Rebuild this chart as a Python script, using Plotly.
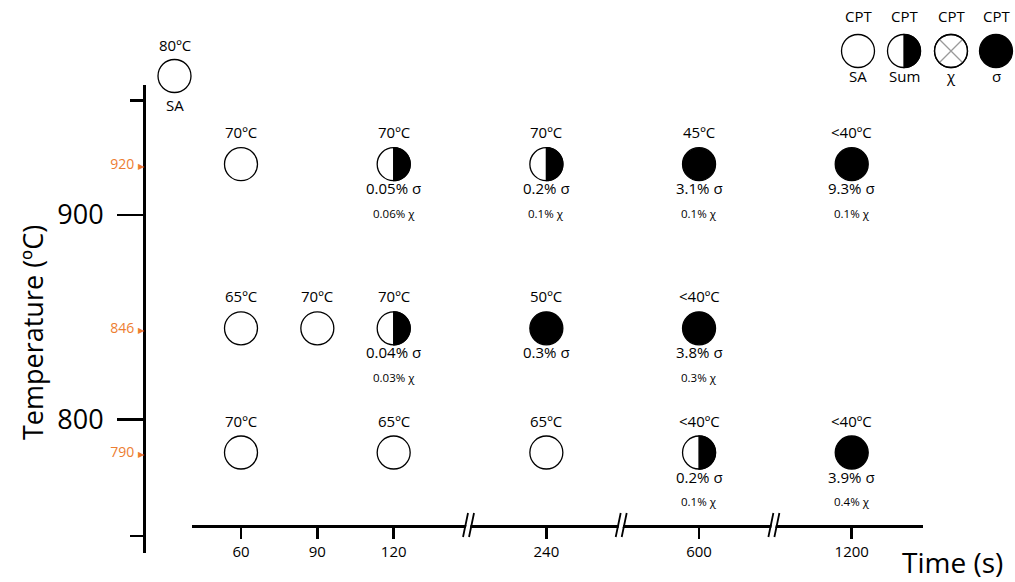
import numpy as np
import plotly.graph_objects as go

W, H = 1015, 582

# ------------------------------------------------------------------ data
axis_slots = ["60", "90", "120", None, "240", None, "600", None, "1200"]   # None = axis break
tick_labels = ["60", "90", "120", "240", "600", "1200"]
row_temps = [920, 846, 790]
main_temp_ticks = [900, 800]
main_temp_minor = [956, 743]

pt_time = [60, 120, 240, 600, 1200,
           60, 90, 120, 240, 600,
           60, 120, 240, 600, 1200]
pt_row = [920, 920, 920, 920, 920,
          846, 846, 846, 846, 846,
          790, 790, 790, 790, 790]
pt_cpt = ["70ºC", "70ºC", "70ºC", "45ºC", "<40ºC",
          "65ºC", "70ºC", "70ºC", "50ºC", "<40ºC",
          "70ºC", "65ºC", "65ºC", "<40ºC", "<40ºC"]
pt_type = ["SA", "Sum", "Sum", "σ", "σ",
           "SA", "SA", "Sum", "σ", "σ",
           "SA", "SA", "SA", "Sum", "σ"]
pt_sigma = ["", "0.05% σ", "0.2% σ", "3.1% σ", "9.3% σ",
            "", "", "0.04% σ", "0.3% σ", "3.8% σ",
            "", "", "", "0.2% σ", "3.9% σ"]
pt_chi = ["", "0.06% χ", "0.1% χ", "0.1% χ", "0.1% χ",
          "", "", "0.03% χ", "", "0.3% χ",
          "", "", "", "0.1% χ", "0.4% χ"]

legend_types = ["SA", "Sum", "χ", "σ"]
legend_header = "CPT"
initial_cpt = "80ºC"
initial_type = "SA"

# ------------------------------------------------------------------ style
FONT = "Open Sans"
ORANGE = "#ED7D31"
BLACK = "#000000"
GREY = "#9a9a9a"
MS = 33          # marker diameter px
LW = 1.3
AXW = 2.5


def px_x(p):
    return p / W


def px_y(p):
    return 1 - p / H


def half_path(r, n=48):
    ang = np.linspace(-np.pi / 2, np.pi / 2, n)
    pts = [(r * np.cos(a), r * np.sin(a)) for a in ang]
    return "M " + " L ".join(f"{x:.2f},{y:.2f}" for x, y in pts) + " Z"


HALF = half_path(MS / 2)

slot_index = [axis_slots.index(str(t)) for t in pt_time]
tick_index = [axis_slots.index(t) for t in tick_labels]
break_index = [i for i, s in enumerate(axis_slots) if s is None]

fig = go.Figure()

# empty trace so that the x / y (temperature) subplot exists
fig.add_trace(go.Scatter(x=[], y=[], xaxis="x", yaxis="y", mode="markers",
                         showlegend=False, hoverinfo="skip"))

# ---------------------------------------------------------------- points
fill = {"SA": "white", "Sum": "white", "σ": BLACK}
fig.add_trace(go.Scatter(
    x=slot_index, y=pt_row, xaxis="x", yaxis="y2", mode="markers",
    marker=dict(size=MS, color=[fill[t] for t in pt_type], symbol="circle",
                line=dict(color=BLACK, width=LW)),
    hoverinfo="skip", showlegend=False, cliponaxis=False))

shapes = []
for xi, yv, t in zip(slot_index, pt_row, pt_type):
    if t == "Sum":
        shapes.append(dict(type="path", xref="x", yref="y2", xsizemode="pixel", ysizemode="pixel",
                           xanchor=xi, yanchor=yv, path=HALF, fillcolor=BLACK,
                           line=dict(color=BLACK, width=LW)))

TXT = dict(showarrow=False, xanchor="center", yanchor="middle")
annotations = []
for xi, yv, c, s, ch in zip(slot_index, pt_row, pt_cpt, pt_sigma, pt_chi):
    annotations.append(dict(x=xi, y=yv, xref="x", yref="y2", text=c, yshift=32,
                            font=dict(family=FONT, size=15, color=BLACK), **TXT))
    if s:
        annotations.append(dict(x=xi, y=yv, xref="x", yref="y2", text=s, yshift=-24,
                                font=dict(family=FONT, size=15, color=BLACK), **TXT))
    if ch:
        annotations.append(dict(x=xi, y=yv, xref="x", yref="y2", text=ch, yshift=-49,
                                font=dict(family=FONT, size=11.5, color=BLACK), **TXT))

# axis break marks on the time axis
x_axis_pos = px_y(526)
for b in break_index:
    shapes.append(dict(type="path", xref="x", yref="paper", xsizemode="pixel", ysizemode="pixel",
                       xanchor=b, yanchor=x_axis_pos,
                       path="M -6,-11 L -1,13 L 3,13 L -2,-11 Z", fillcolor="white",
                       line=dict(width=0), layer="above"))
    shapes.append(dict(type="path", xref="x", yref="paper", xsizemode="pixel", ysizemode="pixel",
                       xanchor=b, yanchor=x_axis_pos,
                       path="M -7,-11 L -2,13 M -1,-11 L 4,13",
                       line=dict(color=BLACK, width=1.8), layer="above"))

# ---------------------------------------------------------------- legend + initial state (overlay axes in px)
leg_x = [858, 904, 951, 996]
leg_y = 51
leg_fill = {"SA": "white", "Sum": "white", "χ": "white", "σ": BLACK}
fig.add_trace(go.Scatter(
    x=leg_x, y=[leg_y] * 4, xaxis="x3", yaxis="y3", mode="markers",
    marker=dict(size=MS, color=[leg_fill[t] for t in legend_types], symbol="circle",
                line=dict(color=BLACK, width=LW)),
    hoverinfo="skip", showlegend=False, cliponaxis=False))
chi_i = legend_types.index("χ")
fig.add_trace(go.Scatter(
    x=[leg_x[chi_i]], y=[leg_y], xaxis="x3", yaxis="y3", mode="markers",
    marker=dict(size=MS - 9, color=GREY, symbol="x-thin-open",
                line=dict(color=GREY, width=1.3)),
    hoverinfo="skip", showlegend=False, cliponaxis=False))
fig.add_trace(go.Scatter(
    x=[leg_x[chi_i]], y=[leg_y], xaxis="x3", yaxis="y3", mode="markers",
    marker=dict(size=MS, color=BLACK, symbol="circle-open",
                line=dict(color=BLACK, width=LW)),
    hoverinfo="skip", showlegend=False, cliponaxis=False))
sum_i = legend_types.index("Sum")
shapes.append(dict(type="path", xref="x3", yref="y3", xsizemode="pixel", ysizemode="pixel",
                   xanchor=leg_x[sum_i], yanchor=leg_y, path=HALF, fillcolor=BLACK,
                   line=dict(color=BLACK, width=LW)))
for x, t in zip(leg_x, legend_types):
    annotations.append(dict(x=x, y=16, xref="x3", yref="y3", text=legend_header,
                            font=dict(family=FONT, size=15, color=BLACK), **TXT))
    annotations.append(dict(x=x, y=76, xref="x3", yref="y3", text=t,
                            font=dict(family=FONT, size=15, color=BLACK), **TXT))

init_x, init_y = 174.5, 76
fig.add_trace(go.Scatter(
    x=[init_x], y=[init_y], xaxis="x3", yaxis="y3", mode="markers",
    marker=dict(size=MS, color="white", symbol="circle", line=dict(color=BLACK, width=LW)),
    hoverinfo="skip", showlegend=False, cliponaxis=False))
annotations.append(dict(x=init_x, y=45, xref="x3", yref="y3", text=initial_cpt,
                        font=dict(family=FONT, size=15, color=BLACK), **TXT))
annotations.append(dict(x=init_x, y=105, xref="x3", yref="y3", text=initial_type,
                        font=dict(family=FONT, size=15, color=BLACK), **TXT))

# ---------------------------------------------------------------- titles
annotations.append(dict(x=px_x(32), y=px_y(333), xref="paper", yref="paper",
                        text="Temperature (ºC)", textangle=-90,
                        font=dict(family=FONT, size=27, color=BLACK), **TXT))
annotations.append(dict(x=px_x(952), y=px_y(562), xref="paper", yref="paper",
                        text="Time (s)",
                        font=dict(family=FONT, size=28, color=BLACK), **TXT))

# ---------------------------------------------------------------- axes
y_dom = [px_y(553), px_y(85)]


def temp_at(p, ref_t, ref_p, scale):
    return ref_t + (ref_p - p) / scale


main_scale = 2.043   # px per ºC
row_scale = 2.218
y_range = [temp_at(553, 800, 419.3, main_scale), temp_at(85, 800, 419.3, main_scale)]
y2_range = [temp_at(553, 852, 315, row_scale), temp_at(85, 852, 315, row_scale)]

unit = 76.34
x0_px = 241
x_range = [(192 - x0_px) / unit, (923 - x0_px) / unit]

fig.update_layout(
    width=W, height=H,
    margin=dict(l=0, r=0, t=0, b=0),
    paper_bgcolor="white", plot_bgcolor="rgba(0,0,0,0)",
    showlegend=False,
    font=dict(family=FONT, color=BLACK),
    xaxis=dict(domain=[px_x(192), px_x(923)], range=x_range, anchor="free", position=x_axis_pos,
               showgrid=False, zeroline=False, showline=True, linecolor=BLACK, linewidth=AXW,
               tickmode="array", tickvals=tick_index, ticktext=tick_labels,
               ticks="outside", ticklen=11, tickwidth=AXW, tickcolor=BLACK,
               tickfont=dict(family=FONT, size=15, color=BLACK), fixedrange=True),
    yaxis=dict(domain=y_dom, range=y_range, anchor="free", position=px_x(144),
               showgrid=False, zeroline=False, showline=True, linecolor=BLACK, linewidth=AXW,
               tickmode="array", tickvals=main_temp_ticks, ticks="outside", ticklen=26,
               tickwidth=AXW, tickcolor=BLACK, ticklabelstandoff=8,
               tickfont=dict(family=FONT, size=27, color=BLACK),
               minor=dict(tickmode="array", tickvals=main_temp_minor, ticks="outside",
                          ticklen=13, tickwidth=AXW, tickcolor=BLACK, showgrid=False),
               fixedrange=True),
    yaxis2=dict(overlaying="y", range=y2_range, anchor="free", position=px_x(144), side="left",
                showgrid=False, zeroline=False, showline=False,
                tickmode="array", tickvals=row_temps,
                ticktext=[f"{t} <span style='font-size:8px'>▶</span>" for t in row_temps],
                ticks="", tickfont=dict(family=FONT, size=14, color=ORANGE), fixedrange=True),
    xaxis3=dict(domain=[0, 1], range=[0, W], visible=False, anchor="y3", fixedrange=True),
    yaxis3=dict(domain=[0, 1], range=[H, 0], visible=False, anchor="x3", fixedrange=True),
    shapes=shapes,
    annotations=annotations,
)

fig.write_html("out.html", config={"displayModeBar": False, "staticPlot": True},
               post_script="document.body.style.margin='0px';document.body.style.padding='0px';")
